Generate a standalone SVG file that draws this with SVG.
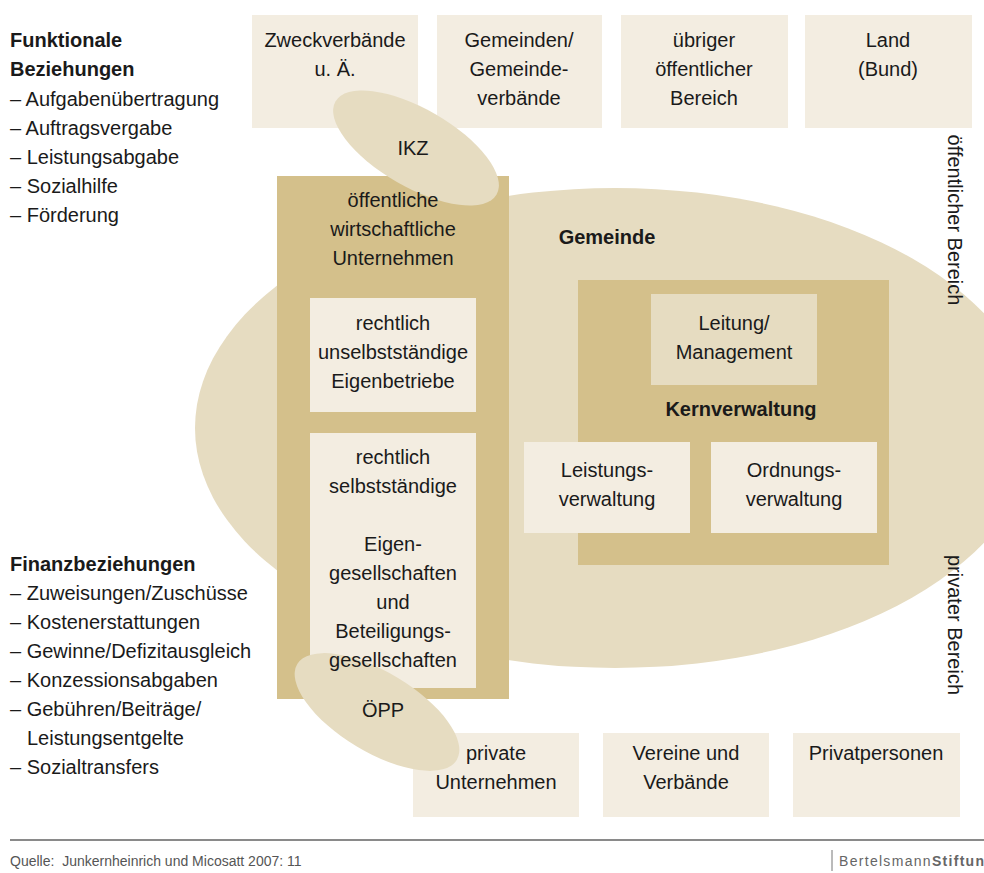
<svg xmlns="http://www.w3.org/2000/svg" width="984" height="873" viewBox="0 0 984 873">
<style>
text{font-family:"Liberation Sans",Arial,sans-serif;font-size:20px;fill:#1a1a1a}
.c{text-anchor:middle}
.b{font-weight:bold}
.light{fill:#f3ede1}
.mid{fill:#e6dcc1}
.dark{fill:#d4c08b}
.foot{font-size:14px;fill:#555}
.brand{font-size:14px;fill:#666;letter-spacing:1.3px}
</style>
<rect width="984" height="873" fill="#ffffff"/>

<g id="gemeinde">
<ellipse class="mid" cx="615" cy="428" rx="420" ry="240"/>
<text class="c b" x="607" y="244">Gemeinde</text>
</g>

<g id="oeffentliche-unternehmen">
<rect class="dark" x="277" y="176" width="232" height="523"/>
</g>

<g id="eigenbetriebe">
<rect class="light" x="310" y="298" width="166" height="114"/>
<text class="c" x="393" y="330">rechtlich</text>
<text class="c" x="393" y="359">unselbstständige</text>
<text class="c" x="393" y="388">Eigenbetriebe</text>
</g>

<g id="eigengesellschaften">
<rect class="light" x="310" y="433" width="166" height="255"/>
</g>

<g id="kernverwaltung">
<rect class="dark" x="578" y="280" width="311" height="285"/>
<text class="c b" x="741" y="416">Kernverwaltung</text>
</g>

<g id="leitung">
<rect class="mid" x="651" y="294" width="166" height="91"/>
<text class="c" x="734" y="330">Leitung/</text>
<text class="c" x="734" y="359">Management</text>
</g>

<g id="leistungsverwaltung">
<rect class="light" x="524" y="442" width="166" height="91"/>
<text class="c" x="607" y="477">Leistungs-</text>
<text class="c" x="607" y="506">verwaltung</text>
</g>

<g id="ordnungsverwaltung">
<rect class="light" x="711" y="442" width="166" height="91"/>
<text class="c" x="794" y="477">Ordnungs-</text>
<text class="c" x="794" y="506">verwaltung</text>
</g>

<g id="zweckverbaende">
<rect class="light" x="252" y="15" width="166" height="113"/>
<text class="c" x="335" y="47">Zweckverbände</text>
<text class="c" x="335" y="76">u. Ä.</text>
</g>

<g id="gemeinden">
<rect class="light" x="437" y="15" width="165" height="113"/>
<text class="c" x="519" y="47">Gemeinden/</text>
<text class="c" x="519" y="76">Gemeinde-</text>
<text class="c" x="519" y="105">verbände</text>
</g>

<g id="uebriger-bereich">
<rect class="light" x="621" y="15" width="167" height="113"/>
<text class="c" x="704" y="47">übriger</text>
<text class="c" x="704" y="76">öffentlicher</text>
<text class="c" x="704" y="105">Bereich</text>
</g>

<g id="land">
<rect class="light" x="805" y="15" width="167" height="113"/>
<text class="c" x="888" y="47">Land</text>
<text class="c" x="888" y="76">(Bund)</text>
</g>

<g id="private-unternehmen">
<rect class="light" x="413" y="733" width="166" height="84"/>
</g>

<g id="vereine">
<rect class="light" x="603" y="733" width="166" height="84"/>
<text class="c" x="686" y="760">Vereine und</text>
<text class="c" x="686" y="789">Verbände</text>
</g>

<g id="privatpersonen">
<rect class="light" x="793" y="733" width="167" height="84"/>
<text class="c" x="876" y="760">Privatpersonen</text>
</g>

<g id="ikz">
<ellipse class="mid" cx="0" cy="0" rx="93" ry="39" transform="translate(416 148) rotate(30)"/>
<text class="c" x="413" y="155">IKZ</text>
</g>

<g id="oepp">
<ellipse class="mid" cx="0" cy="0" rx="93" ry="40" transform="translate(377 712) rotate(31)"/>
<text class="c" x="383" y="717">ÖPP</text>
</g>

<g id="oeffentliche-unternehmen-label">
<text class="c" x="393" y="207">öffentliche</text>
<text class="c" x="393" y="236">wirtschaftliche</text>
<text class="c" x="393" y="265">Unternehmen</text>
</g>

<g id="eigengesellschaften-label">
<text class="c" x="393" y="464">rechtlich</text>
<text class="c" x="393" y="493">selbstständige</text>
<text class="c" x="393" y="551">Eigen-</text>
<text class="c" x="393" y="580">gesellschaften</text>
<text class="c" x="393" y="609">und</text>
<text class="c" x="393" y="638">Beteiligungs-</text>
<text class="c" x="393" y="667">gesellschaften</text>
</g>

<g id="private-unternehmen-label">
<text class="c" x="496" y="760">private</text>
<text class="c" x="496" y="789">Unternehmen</text>
</g>

<g id="funktionale-beziehungen">
<text class="b" x="10" y="47">Funktionale</text>
<text class="b" x="10" y="76">Beziehungen</text>
<text x="10" y="106">– Aufgabenübertragung</text>
<text x="10" y="135">– Auftragsvergabe</text>
<text x="10" y="164">– Leistungsabgabe</text>
<text x="10" y="193">– Sozialhilfe</text>
<text x="10" y="222">– Förderung</text>
</g>

<g id="finanzbeziehungen">
<text class="b" x="10" y="571">Finanzbeziehungen</text>
<text x="10" y="600">– Zuweisungen/Zuschüsse</text>
<text x="10" y="629">– Kostenerstattungen</text>
<text x="10" y="658">– Gewinne/Defizitausgleich</text>
<text x="10" y="687">– Konzessionsabgaben</text>
<text x="10" y="716">– Gebühren/Beiträge/</text>
<text x="27" y="745">Leistungsentgelte</text>
<text x="10" y="774">– Sozialtransfers</text>
</g>

<g id="bereiche">
<text class="c" transform="translate(948 220) rotate(90)">öffentlicher Bereich</text>
<text class="c" transform="translate(948 625) rotate(90)">privater Bereich</text>
</g>

<g id="footer">
<line x1="10" y1="840" x2="984" y2="840" stroke="#8a8a8a" stroke-width="2"/>
<text class="foot" x="10" y="866" xml:space="preserve">Quelle:  Junkernheinrich und Micosatt 2007: 11</text>
<line x1="832" y1="850" x2="832" y2="871" stroke="#777" stroke-width="1"/>
<text class="brand" x="839" y="866">Bertelsmann<tspan font-weight="bold">Stiftun</tspan></text>
</g>
</svg>
